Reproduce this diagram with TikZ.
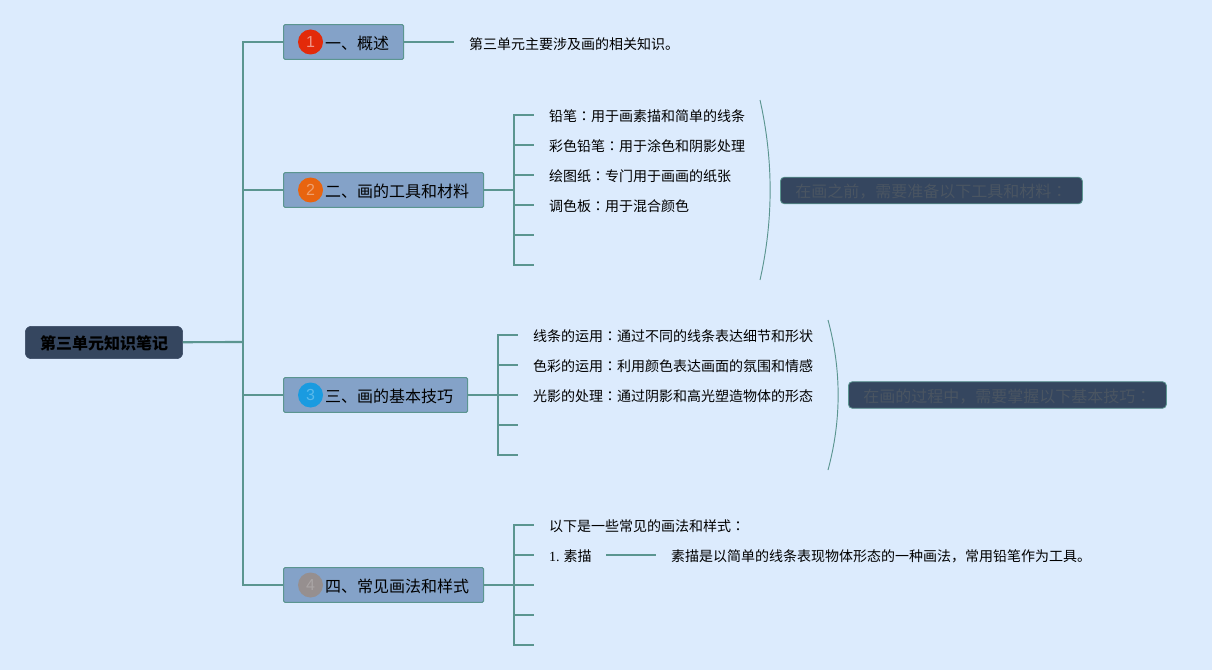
\documentclass[tikz,border=0pt]{standalone}
\usepackage{fontspec}
\setmainfont{Noto Sans CJK SC}
\newfontfamily\colonfont{Noto Sans CJK TC}
\newfontfamily\serifnum{Liberation Serif}
\newfontfamily\sansnum{Liberation Sans}
\newcommand{\midcolon}{{\colonfont ：}}
\definecolor{bgblue}{HTML}{DCEBFD}
\definecolor{linegreen}{HTML}{5B9590}
\definecolor{topicblue}{HTML}{84A2C8}
\definecolor{darkbox}{HTML}{35465F}
\definecolor{darktext}{HTML}{4A5562}
\tikzset{
    rootbox/.style = {draw=darkbox, fill=darkbox, rounded corners=4.5pt, minimum width=118pt, minimum height=24.25pt, inner sep=0pt, text height=12pt, text depth=1.4pt, font=\fontsize{12}{14}\selectfont\bfseries},
    topic/.style = {draw=linegreen, fill=topicblue, rounded corners=1pt, line width=0.8pt, anchor=west, minimum height=26pt, inner xsep=10.9pt, inner ysep=0pt, text height=12pt, text depth=1.4pt, font=\fontsize{12}{14}\selectfont, execute at begin node=\hspace*{20.25pt}},
    badge/.style = {circle, minimum size=18.75pt, inner sep=0pt, font=\fontsize{12}{14}\sansnum},
    leaf/.style = {anchor=west, inner sep=0pt, outer xsep=11.25pt, font=\fontsize{10.5}{13}\selectfont},
    note/.style = {draw=linegreen, fill=darkbox, text=darktext, rounded corners=3pt, line width=0.6pt, anchor=west, minimum height=20pt, inner xsep=11.25pt, inner ysep=0pt, text height=12pt, text depth=1.4pt, font=\fontsize{12}{14}\selectfont},
    branch/.style = {draw=linegreen, line width=1.6pt},
    arc/.style = {draw=linegreen, line width=0.7pt}
}
\begin{document}
\begin{tikzpicture}[x=0.75pt, y=-0.75pt]
    \fill[bgblue] (0,0) rectangle (1212,670);

    \node[rootbox] (root) at (104,342.5) {第三单元知识笔记};
    \coordinate (trunk) at (243,342);

    % topics
    \node[topic] (t1) at (283,42) {一、概述};
    \node[topic] (t2) at (283,190) {二、画的工具和材料};
    \node[topic] (t3) at (283,395) {三、画的基本技巧};
    \node[topic] (t4) at (283,585) {四、常见画法和样式};

    \node[badge, fill={rgb,255:red,227;green,42;blue,10}, text={rgb,255:red,240;green,150;blue,135}] (b1) at (310.5,42) {1};
    \node[badge, fill={rgb,255:red,232;green,100;blue,15}, text={rgb,255:red,240;green,160;blue,110}] (b2) at (310.5,190) {2};
    \node[badge, fill={rgb,255:red,26;green,155;blue,224}, text={rgb,255:red,90;green,185;blue,235}] (b3) at (310.5,395) {3};
    \node[badge, fill={rgb,255:red,150;green,143;blue,143}, text={rgb,255:red,170;green,165;blue,165}] (b4) at (310.5,585) {4};

    \draw[branch] (root) -- (trunk);
    \draw[branch] (trunk) |- (t1.west);
    \draw[branch] (trunk) |- (t2.west);
    \draw[branch] (trunk) |- (t3.west);
    \draw[branch] (trunk) |- (t4.west);

    % first topic
    \node[leaf] (l11) at (454,44) {第三单元主要涉及画的相关知识。};
    \draw[branch] (t1.east) -- (l11.west |- t1.east);

    % second topic
    \coordinate (j2) at (514,190);
    \node[leaf] (l21) at (534,116) {铅笔\midcolon 用于画素描和简单的线条};
    \node[leaf] (l22) at (534,146) {彩色铅笔\midcolon 用于涂色和阴影处理};
    \node[leaf] (l23) at (534,176) {绘图纸\midcolon 专门用于画画的纸张};
    \node[leaf] (l24) at (534,206) {调色板\midcolon 用于混合颜色};
    \coordinate (l25) at (534,235);
    \coordinate (l26) at (534,265);

    \draw[branch] (t2.east) -- (j2);
    \draw[branch] (j2) |- (534,115);
    \draw[branch] (j2) |- (534,145);
    \draw[branch] (j2) |- (534,175);
    \draw[branch] (j2) |- (534,205);
    \draw[branch] (j2) |- (l25);
    \draw[branch] (j2) |- (l26);

    \coordinate (a2top) at (760,100);
    \coordinate (a2end) at (760,280);
    \draw[arc] (a2top) .. controls (773.5,160) and (773.5,220) .. (a2end);
    \node[note] (n2) at (780,190.5) {在画之前，需要准备以下工具和材料\midcolon};

    % third topic
    \coordinate (j3) at (498,395);
    \node[leaf] (l31) at (518,336) {线条的运用\midcolon 通过不同的线条表达细节和形状};
    \node[leaf] (l32) at (518,366) {色彩的运用\midcolon 利用颜色表达画面的氛围和情感};
    \node[leaf] (l33) at (518,396) {光影的处理\midcolon 通过阴影和高光塑造物体的形态};
    \coordinate (l34) at (518,425);
    \coordinate (l35) at (518,455);

    \draw[branch] (t3.east) -- (j3);
    \draw[branch] (j3) |- (518,335);
    \draw[branch] (j3) |- (518,365);
    \draw[branch] (j3) -- (518,395);
    \draw[branch] (j3) |- (l34);
    \draw[branch] (j3) |- (l35);

    \coordinate (a3top) at (828,320);
    \coordinate (a3end) at (828,470);
    \draw[arc] (a3top) .. controls (841.5,370) and (841.5,420) .. (a3end);
    \node[note] (n3) at (848,395) {在画的过程中，需要掌握以下基本技巧\midcolon};

    % fourth topic
    \coordinate (j4) at (514,585);
    \node[leaf] (l41) at (534,526) {以下是一些常见的画法和样式\midcolon};
    \node[leaf] (l42) at (534,556) {{\serifnum 1.} 素描};
    \coordinate (l43) at (534,585);
    \coordinate (l44) at (534,615);
    \coordinate (l45) at (534,645);
    \node[leaf] (l421) at (656,556) {素描是以简单的线条表现物体形态的一种画法，常用铅笔作为工具。};

    \draw[branch] (t4.east) -- (j4);
    \draw[branch] (j4) |- (534,525);
    \draw[branch] (j4) |- (534,555);
    \draw[branch] (j4) -- (l43);
    \draw[branch] (j4) |- (l44);
    \draw[branch] (j4) |- (l45);
    \draw[branch] (606,555) -- (656,555);
\end{tikzpicture}
\end{document}
